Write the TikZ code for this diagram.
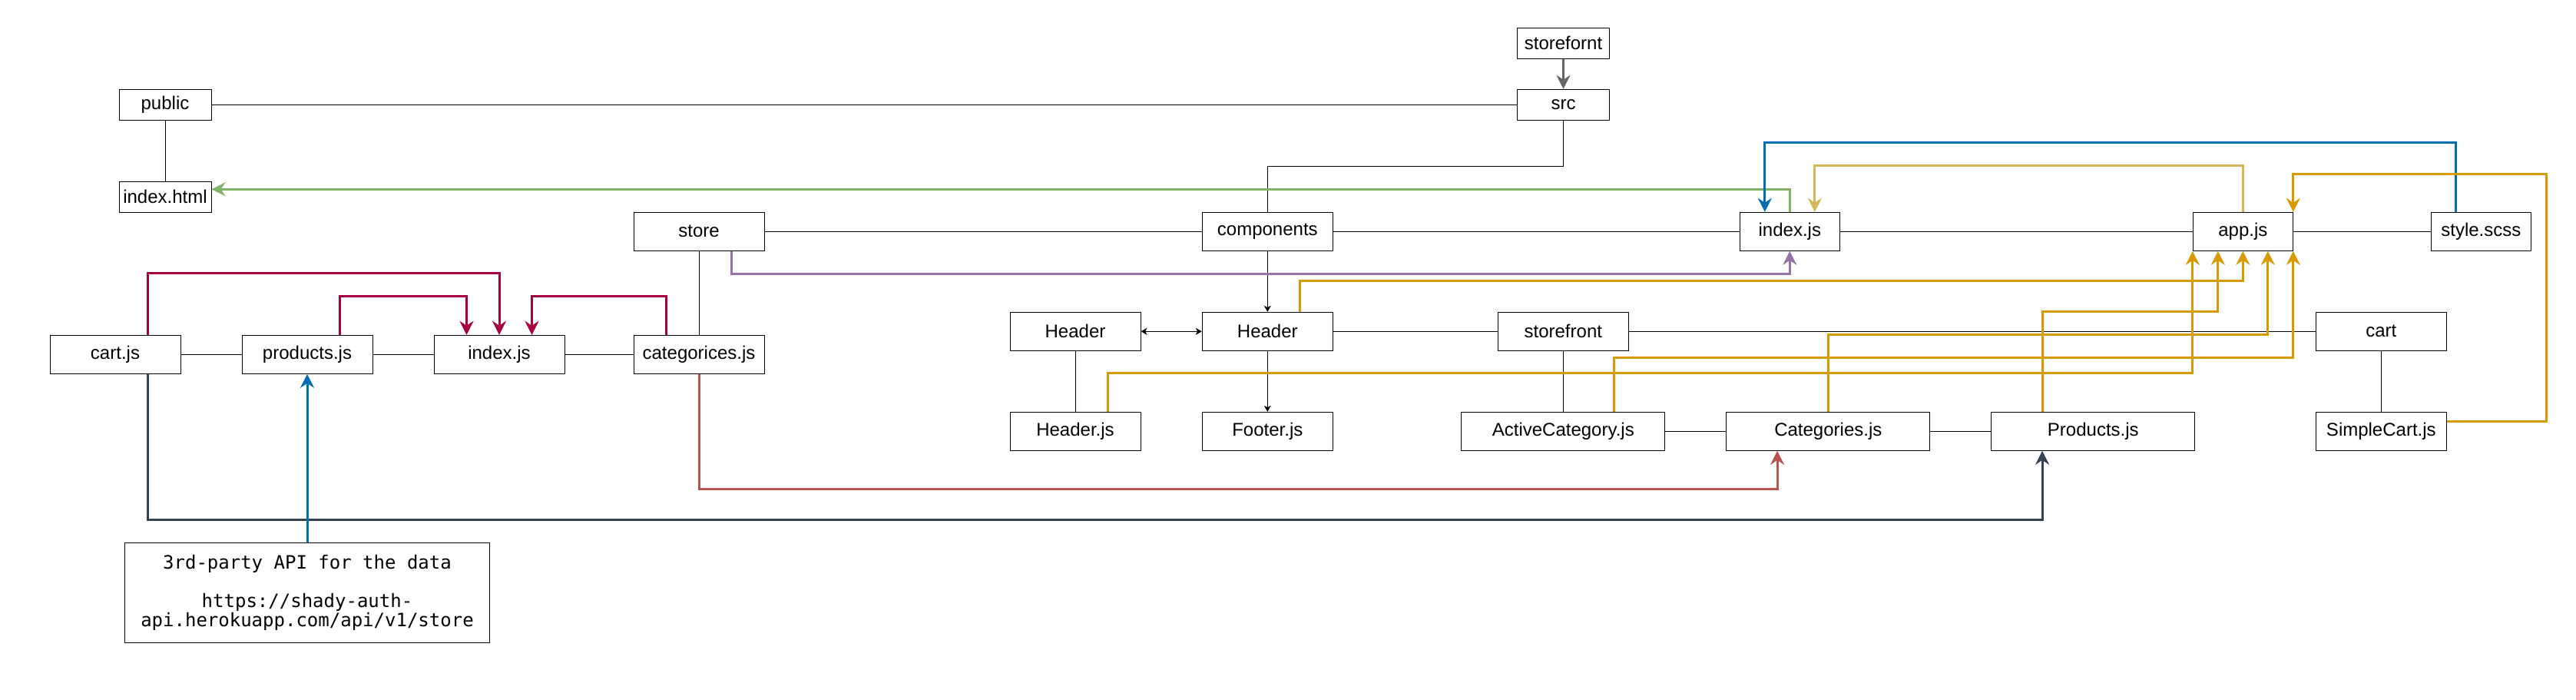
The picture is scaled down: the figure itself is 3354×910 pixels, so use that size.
\documentclass[tikz,border=0pt]{standalone}
\usepackage{fontspec}
\setmainfont{Liberation Sans}
\newfontfamily\apifont{DejaVu Sans Mono}
\usetikzlibrary{arrows.meta}
\definecolor{crim}{HTML}{A50040}
\definecolor{grn}{HTML}{82B366}
\definecolor{prp}{HTML}{9673A6}
\definecolor{ylw}{HTML}{D6B656}
\definecolor{orng}{HTML}{D79B00}
\definecolor{blu}{HTML}{006EAF}
\definecolor{rd}{HTML}{B85450}
\definecolor{drk}{HTML}{314354}
\definecolor{gry}{HTML}{666666}
\begin{document}
\begin{tikzpicture}[x=0.5pt, y=-0.5pt,
	box/.style={draw, line width=0.5pt, inner sep=0pt, minimum width=85pt, minimum height=25pt, font=\fontsize{12}{14}\selectfont},
	nbox/.style={box, minimum width=60pt, minimum height=20pt},
	sbox/.style={box, minimum width=65pt},
	lbox/.style={box, minimum width=132.5pt},
	wire/.style={line width=0.5pt},
	flow/.style={line width=1.5pt, -{Stealth[length=9pt,width=9pt,inset=3pt]}},
	thinflow/.style={line width=0.5pt, >={Stealth[length=4pt,width=4.5pt,inset=1.2pt]}, ->}]
	\useasboundingbox (0, 0) rectangle (3354, 910);
	\node[nbox] (sfornt) at (2035.5, 56.3) {storefornt};
	\node[nbox] (public) at (215, 136.3) {public};
	\node[nbox] (src) at (2035.5, 136.3) {src};
	\node[nbox] (idxhtml) at (215, 256.3) {index.html};
	\node[box] (store) at (910, 301.3) {store};
	\node[box] (comp) at (1650.3, 301.3) {components};
	\node[sbox] (srcidx) at (2330.3, 301.3) {index.js};
	\node[sbox] (app) at (2920.3, 301.3) {app.js};
	\node[sbox] (style) at (3230.3, 301.3) {style.scss};
	\node[box] (hdra) at (1400, 431.3) {Header};
	\node[box] (hdr) at (1650.3, 431.3) {Header};
	\node[box] (sfront) at (2035.3, 431.3) {storefront};
	\node[box] (cart) at (3100.3, 431.3) {cart};
	\node[box] (cartjs) at (150, 461.3) {cart.js};
	\node[box] (prodjs) at (400, 461.3) {products.js};
	\node[box] (idx) at (650, 461.3) {index.js};
	\node[box] (catjs) at (910, 461.3) {categorices.js};
	\node[box] (hdrjs) at (1400, 561.3) {Header.js};
	\node[box] (footer) at (1650.3, 561.3) {Footer.js};
	\node[lbox] (active) at (2035.3, 561.3) {ActiveCategory.js};
	\node[lbox] (cats) at (2380.3, 561.3) {Categories.js};
	\node[lbox] (prods) at (2725.3, 561.3) {Products.js};
	\node[box] (scart) at (3100.3, 561.3) {SimpleCart.js};
	\node[box, minimum width=237.5pt, minimum height=65pt, align=center,
		font=\apifont\fontsize{12}{12.5}\selectfont] (api) at (400, 771)
		{3rd-party API for the data\\[12.5pt]https://shady-auth-\\api.herokuapp.com/api/v1/store};
	\draw[wire] (public) -- (src);
	\draw[wire] (public) -- (idxhtml);
	\draw[wire] (src.south) -- ++(0, 60) -| (comp.north);
	\draw[wire] (store) -- (comp);
	\draw[wire] (comp) -- (srcidx);
	\draw[wire] (srcidx) -- (app);
	\draw[wire] (app) -- (style);
	\draw[wire] (store) -- (catjs);
	\draw[wire] (cartjs) -- (prodjs);
	\draw[wire] (prodjs) -- (idx);
	\draw[wire] (idx) -- (catjs);
	\draw[thinflow] (comp) -- (hdr);
	\draw[thinflow, <->] (hdra) -- (hdr);
	\draw[wire] (hdr) -- (sfront);
	\draw[wire] (sfront) -- (cart);
	\draw[wire] (hdra) -- (hdrjs);
	\draw[thinflow] (hdr) -- (footer);
	\draw[wire] (sfront) -- (active);
	\draw[wire] (active) -- (cats);
	\draw[wire] (cats) -- (prods);
	\draw[wire] (cart) -- (scart);
	\draw[flow, gry] (sfornt) -- (src);
	\draw[flow, grn] (srcidx.north) |- ([yshift=5pt]idxhtml.east);
	\draw[flow, blu] ([xshift=-16.25pt]style.north) -- ++(0, -90) -| ([xshift=-16.25pt]srcidx.north);
	\draw[flow, ylw] (app.north) -- ++(0, -60) -| ([xshift=16.25pt]srcidx.north);
	\draw[flow, orng] ([yshift=6.25pt]scart.east) -- ++(130, 0) -- ++(0, -322) -| (app.north east);
	\draw[flow, prp] ([xshift=21.25pt]store.south) -- ++(0, 30) -| (srcidx.south);
	\draw[flow, crim] ([xshift=21.25pt]cartjs.north) -- ++(0, -80) -| (idx.north);
	\draw[flow, crim] ([xshift=21.25pt]prodjs.north) -- ++(0, -50) -| ([xshift=-21.25pt]idx.north);
	\draw[flow, crim] ([xshift=-21.25pt]catjs.north) -- ++(0, -50) -| ([xshift=21.25pt]idx.north);
	\draw[flow, orng] ([xshift=21.25pt]hdr.north) -- ++(0, -40) -| (app.south);
	\draw[flow, orng] ([xshift=21.25pt]hdrjs.north) -- ++(0, -50) -| (app.south west);
	\draw[flow, orng] ([xshift=33.125pt]active.north) -- ++(0, -70) -| (app.south east);
	\draw[flow, orng] (cats.north) -- ++(0, -100) -| ([xshift=16.25pt]app.south);
	\draw[flow, orng] ([xshift=-33.125pt]prods.north) -- ++(0, -130) -| ([xshift=-16.25pt]app.south);
	\draw[flow, rd] (catjs.south) -- ++(0, 150) -| ([xshift=-33.125pt]cats.south);
	\draw[flow, drk] ([xshift=21.25pt]cartjs.south) -- ++(0, 190) -| ([xshift=-33.125pt]prods.south);
	\draw[flow, blu] (api) -- (prodjs);
\end{tikzpicture}
\end{document}
